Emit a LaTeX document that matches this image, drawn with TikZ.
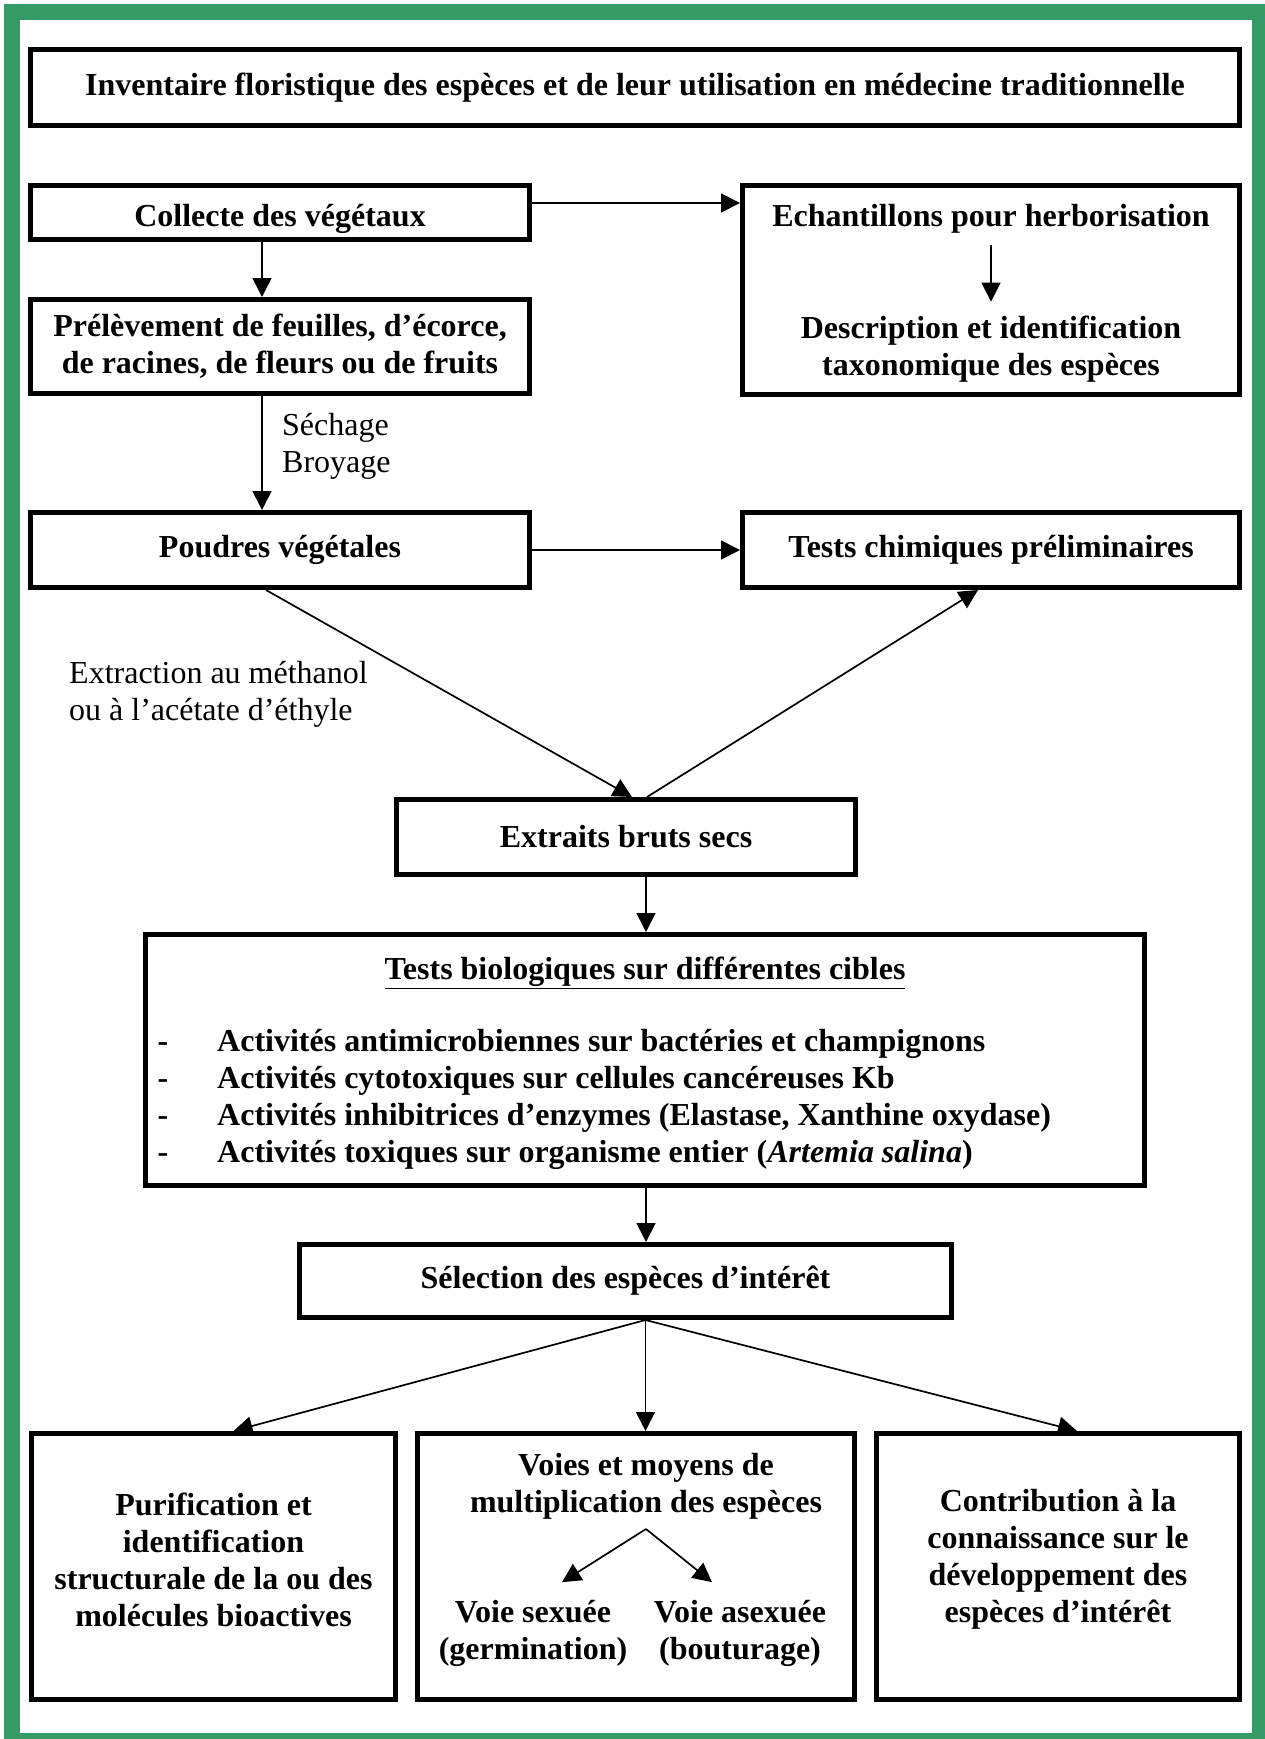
\documentclass[tikz,border=0pt]{standalone}
\usepackage{fontspec}
\setmainfont{Liberation Serif}
\usetikzlibrary{arrows.meta}
\definecolor{cadrevert}{RGB}{52,154,102}

\begin{document}
\begin{tikzpicture}[x=1pt, y=-1pt,
	boite/.style = {draw, line width=5pt, inner sep=0pt, align=center, font=\fontsize{32}{37}\selectfont\bfseries},
	texte/.style = {inner sep=0pt, align=center, font=\fontsize{32}{37}\selectfont\bfseries},
	note/.style = {inner sep=0pt, align=left, anchor=west, font=\fontsize{32}{37}\selectfont},
	fleche/.style = {line width=1.7pt, -{Triangle[length=19pt, width=19pt]}}]
	\useasboundingbox (0,0) rectangle (1264,1739);
	\draw[cadrevert, line width=16pt] (12,12.5) rectangle (1260,1741);

	\node[boite, minimum width=1209pt, minimum height=76pt] (titre) at (635,87.5) {Inventaire floristique des espèces et de leur utilisation en médecine traditionnelle};

	\node[boite, minimum width=499pt, minimum height=54pt, text height=27pt, text depth=0pt] (collecte) at (280,212.5) {Collecte des végétaux};
	\node[boite, minimum width=497pt, minimum height=209pt] (echant) at (991,290) {};
	\node[texte] (herbo) at (991,219) {Echantillons pour herborisation};
	\node[texte] (descr) at (991,349) {Description et identification\\taxonomique des espèces};
	\node[boite, minimum width=499pt, minimum height=94pt] (prelev) at (280,346.5) {Prélèvement de feuilles, d’écorce,\\de racines, de fleurs ou de fruits};
	\node[note] (sechage) at (282,446) {Séchage\\Broyage};
	\node[boite, minimum width=499pt, minimum height=75pt] (poudres) at (280,550) {Poudres végétales};
	\node[boite, minimum width=497pt, minimum height=75pt] (chim) at (991,550) {Tests chimiques préliminaires};
	\node[note] (extraction) at (69,694.5) {Extraction au méthanol\\ou à l’acétate d’éthyle};
	\node[boite, minimum width=459pt, minimum height=75pt] (extraits) at (626,837) {Extraits bruts secs};

	\node[boite, minimum width=999pt, minimum height=251pt] (tbio) at (645,1060) {};
	\node[texte, anchor=base] (tbiotitre) at (645,979.5) {\underline{Tests biologiques sur différentes cibles}};
	\node[texte, anchor=base] (tiret1) at (163,1051.5) {-};
	\node[texte, anchor=base west] (cible1) at (217,1051.5) {Activités antimicrobiennes sur bactéries et champignons};
	\node[texte, anchor=base] (tiret2) at (163,1088.5) {-};
	\node[texte, anchor=base west] (cible2) at (217,1088.5) {Activités cytotoxiques sur cellules cancéreuses Kb};
	\node[texte, anchor=base] (tiret3) at (163,1125.5) {-};
	\node[texte, anchor=base west] (cible3) at (217,1125.5) {Activités inhibitrices d’enzymes (Elastase, Xanthine oxydase)};
	\node[texte, anchor=base] (tiret4) at (163,1162.5) {-};
	\node[texte, anchor=base west] (cible4) at (217,1162.5) {Activités toxiques sur organisme entier (\textit{Artemia salina})};

	\node[boite, minimum width=652pt, minimum height=73pt] (select) at (625.5,1281) {Sélection des espèces d’intérêt};

	\node[boite, minimum width=364pt, minimum height=266pt] (purif) at (213.5,1566.5) {};
	\node[texte] (puriftexte) at (213.5,1559.5) {Purification et\\identification\\structurale de la ou des\\molécules bioactives};
	\node[boite, minimum width=437pt, minimum height=266pt] (voies) at (636,1566.5) {};
	\node[texte] (voiestitre) at (646,1486.5) {Voies et moyens de\\multiplication des espèces};
	\coordinate (fourche) at (646,1529);
	\node[texte] (sexuee) at (533,1633.5) {Voie sexuée\\(germination)};
	\node[texte] (asexuee) at (740,1633.5) {Voie asexuée\\(bouturage)};
	\node[boite, minimum width=363pt, minimum height=266pt] (contrib) at (1058,1566.5) {};
	\node[texte] (contribtexte) at (1058,1559.5) {Contribution à la\\connaissance sur le\\développement des\\espèces d’intérêt};

	\draw[fleche] ([yshift=9.5pt]collecte.east) -- ([yshift=9.5pt]collecte.east -| echant.west);
	\draw[fleche, shorten <=11pt, shorten >=14pt] (herbo.south) -- (descr.north);
	\draw[fleche] ([xshift=-18pt]collecte.south) -- ([xshift=-18pt]prelev.north);
	\draw[fleche] ([xshift=-18pt]prelev.south) -- ([xshift=-18pt]poudres.north);
	\draw[fleche] (poudres.east) -- (chim.west);
	\draw[fleche] ([xshift=-14pt]poudres.south) -- ([xshift=6pt]extraits.north);
	\draw[fleche] ([xshift=21pt]extraits.north) -- ([xshift=-13pt]chim.south);
	\draw[fleche] ([xshift=20pt]extraits.south) -- ([xshift=20pt]extraits.south |- tbio.north);
	\draw[fleche] ([xshift=1pt]tbio.south) -- ([xshift=1pt]tbio.south |- select.north);
	\draw[fleche] ([xshift=20pt]select.south) -- ([xshift=20pt]purif.north);
	\draw[fleche] ([xshift=20pt]select.south) -- ([xshift=20pt]select.south |- voies.north);
	\draw[fleche] ([xshift=20pt]select.south) -- ([xshift=19pt]contrib.north);
	\draw[fleche] (fourche) -- ([xshift=29pt, yshift=18pt]sexuee.north);
	\draw[fleche] (fourche) -- ([xshift=-28pt, yshift=18pt]asexuee.north);
\end{tikzpicture}
\end{document}
